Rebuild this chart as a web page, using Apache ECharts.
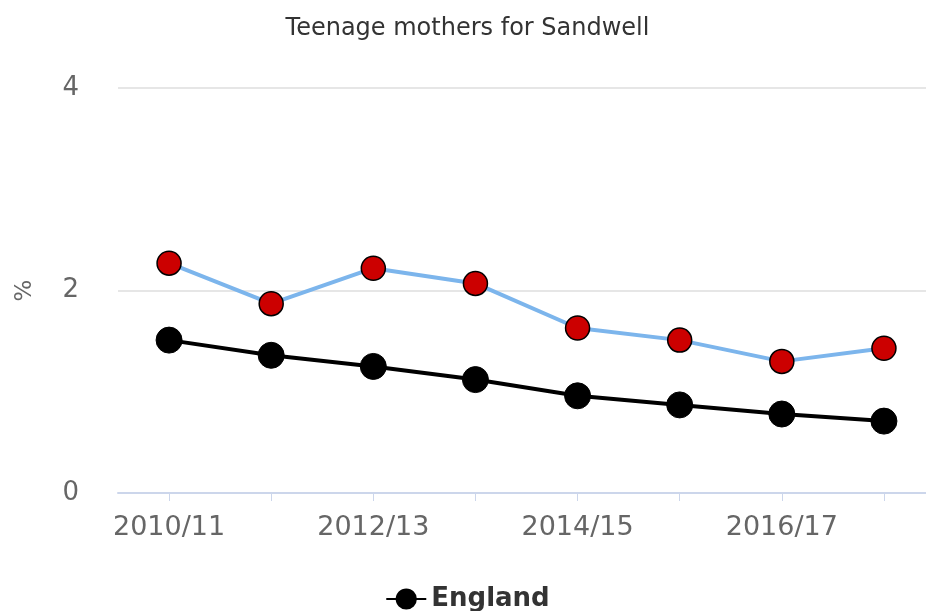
<!DOCTYPE html>
<html>
<head>
<meta charset="utf-8">
<script src="https://cdn.jsdelivr.net/npm/echarts@6/dist/echarts.min.js"></script>
<style>
html,body{margin:0;padding:0;background:#fff;overflow:hidden;width:926px;height:611px;}
#chart{width:935px;height:611px;}
</style>
</head>
<body>
<div id="chart"></div>
<script>
var categories = ['2010/11','2011/12','2012/13','2013/14','2014/15','2015/16','2016/17','2017/18'];
var sandwell = [2.27, 1.87, 2.22, 2.07, 1.63, 1.51, 1.30, 1.43];
var england = [1.51, 1.36, 1.25, 1.12, 0.96, 0.87, 0.78, 0.71];
var yTicks = [0, 2, 4];
var titleText = 'Teenage mothers for Sandwell';
var yName = '%';

var chart = echarts.init(document.getElementById('chart'), null, {renderer: 'canvas'});
var font = 'DejaVu Sans';
chart.setOption({
  animation: false,
  backgroundColor: '#fff',
  title: {
    text: titleText,
    left: 'center',
    top: 17,
    padding: 0,
    textStyle: {fontFamily: font, fontSize: 24, fontWeight: 'normal', color: '#333'}
  },
  grid: {left: 118, right: 0, top: 88, bottom: 118, containLabel: false},
  legend: {
    data: ['England'],
    left: 'center',
    top: 586,
    padding: 0,
    itemWidth: 40,
    itemHeight: 24,
    itemGap: 10,
    textStyle: {fontFamily: font, fontSize: 26, fontWeight: 'bold', color: '#333'}
  },
  xAxis: {
    type: 'category',
    data: categories,
    boundaryGap: true,
    axisLine: {lineStyle: {color: '#ccd6eb', width: 2}},
    axisTick: {show: true, alignWithLabel: true, interval: 0, length: 8, lineStyle: {color: '#ccd6eb'}},
    axisLabel: {interval: 1, margin: 21, fontFamily: font, fontSize: 27, color: '#666'},
    splitLine: {show: false}
  },
  yAxis: {
    type: 'value',
    min: yTicks[0],
    max: yTicks[yTicks.length - 1],
    interval: yTicks[1] - yTicks[0],
    name: yName,
    nameLocation: 'middle',
    nameRotate: 90,
    nameGap: 81,
    nameTextStyle: {fontFamily: font, fontSize: 23, color: '#666'},
    axisLine: {show: false},
    axisTick: {show: false},
    axisLabel: {margin: 39, fontFamily: font, fontSize: 26, color: '#666'},
    splitLine: {lineStyle: {color: '#e6e6e6', width: 2}}
  },
  series: [
    {
      name: 'Sandwell',
      type: 'line',
      data: sandwell,
      symbol: 'circle',
      symbolSize: 24,
      lineStyle: {color: '#7cb5ec', width: 4},
      itemStyle: {color: '#cc0000', borderColor: '#000', borderWidth: 1.5},
      z: 3
    },
    {
      name: 'England',
      type: 'line',
      data: england,
      symbol: 'circle',
      symbolSize: 26,
      lineStyle: {color: '#000', width: 4},
      itemStyle: {color: '#000', borderColor: '#000', borderWidth: 1},
      z: 2
    }
  ]
});
</script>
</body>
</html>
